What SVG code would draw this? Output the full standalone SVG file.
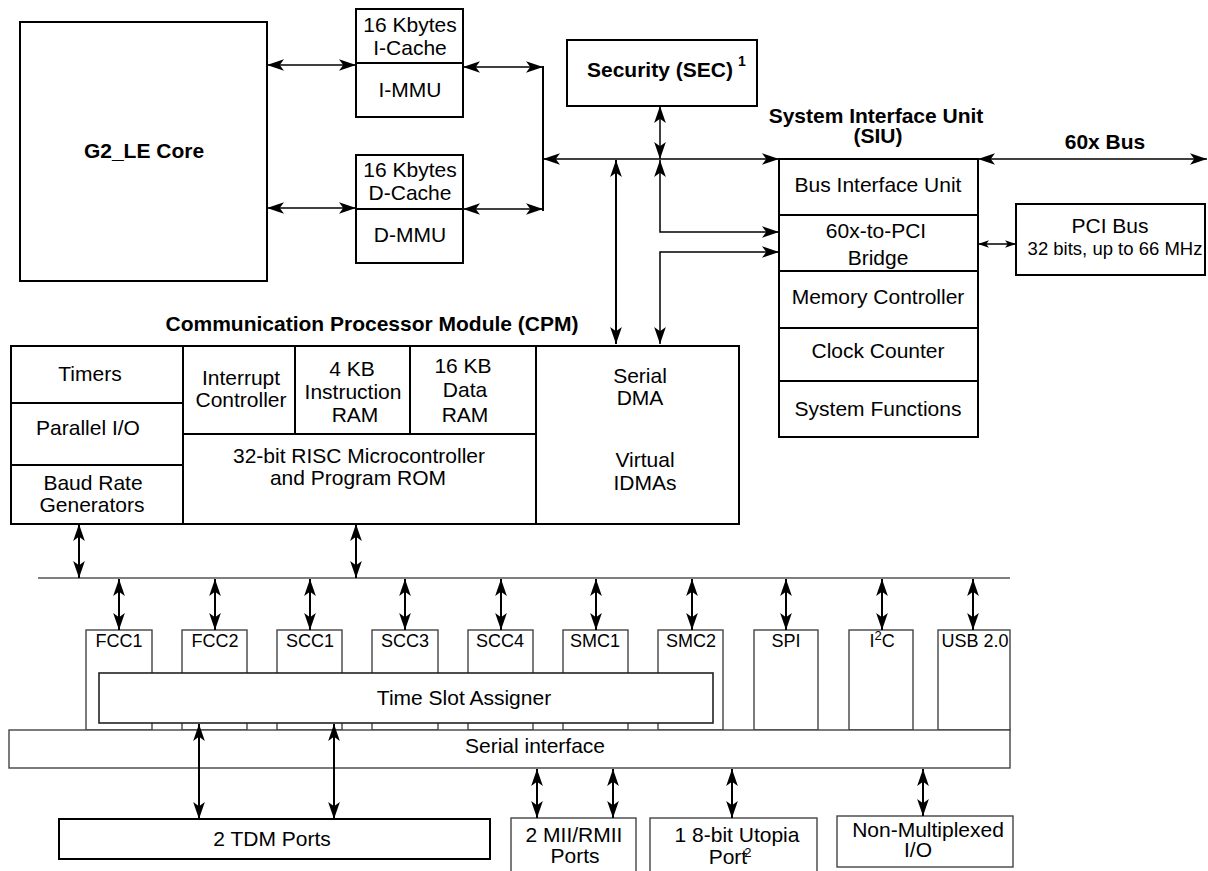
<svg xmlns="http://www.w3.org/2000/svg" width="1208" height="871" viewBox="0 0 1208 871">
<style>
text{font-family:"Liberation Sans",Arial,Helvetica,sans-serif;font-size:21px;fill:#000;text-anchor:middle}
.b{font-weight:bold}
.s{font-size:18px}
.sm{font-size:18.5px}
.box{fill:#fff;stroke:#000;stroke-width:2}
.thin{fill:#fff;stroke:#444;stroke-width:1.4}
.ln{fill:none;stroke:#000;stroke-width:2}
.con{fill:none;stroke:#000;stroke-width:1.5}
.con2{fill:none;stroke:#000;stroke-width:2}
.bus{fill:none;stroke:#000;stroke-width:1.2}
.da{marker-start:url(#ah);marker-end:url(#ah)}
</style>
<defs>
<marker id="ah" viewBox="0 0 16 11" refX="16" refY="5.5" markerWidth="17" markerHeight="12" markerUnits="userSpaceOnUse" orient="auto-start-reverse"><path d="M0,0 L16,5.5 L0,11 L4,5.5 z" fill="#000"/></marker>
<marker id="ahs" viewBox="0 0 16 11" refX="16" refY="5.5" markerWidth="11" markerHeight="8" markerUnits="userSpaceOnUse" orient="auto-start-reverse"><path d="M0,0 L16,5.5 L0,11 L4,5.5 z" fill="#000"/></marker>
</defs>
<rect width="1208" height="871" fill="#fff"/>

<g id="core">
<rect class="box" x="20" y="22" width="247" height="259"/>
<text class="b" x="144" y="158">G2_LE Core</text>
</g>
<g id="icache">
<rect class="box" x="356" y="9" width="107" height="108"/>
<line class="ln" x1="356" y1="63" x2="463" y2="63"/>
<text x="410" y="32">16 Kbytes</text>
<text x="410" y="55">I-Cache</text>
<text x="410" y="97">I-MMU</text>
</g>
<g id="dcache">
<rect class="box" x="356" y="155" width="107" height="108"/>
<line class="ln" x1="356" y1="209" x2="463" y2="209"/>
<text x="410" y="177">16 Kbytes</text>
<text x="410" y="200">D-Cache</text>
<text x="410" y="242">D-MMU</text>
</g>
<g id="sec">
<rect class="box" x="567" y="40" width="190" height="66"/>
<text class="b" x="587" y="77" style="text-anchor:start">Security (SEC)<tspan dx="5" dy="-11" style="font-size:14px">1</tspan></text>
</g>
<g id="siu">
<text class="b" x="876" y="123">System Interface Unit</text>
<text class="b" x="878" y="143">(SIU)</text>
<rect class="box" x="779" y="159" width="199" height="278"/>
<line class="ln" x1="779" y1="215" x2="978" y2="215"/>
<line class="ln" x1="779" y1="271" x2="978" y2="271"/>
<line class="ln" x1="779" y1="328" x2="978" y2="328"/>
<line class="ln" x1="779" y1="381" x2="978" y2="381"/>
<text x="878" y="192">Bus Interface Unit</text>
<text x="876" y="238">60x-to-PCI</text>
<text x="878" y="265">Bridge</text>
<text x="878" y="304">Memory Controller</text>
<text x="878" y="358">Clock Counter</text>
<text x="878" y="416">System Functions</text>
</g>
<g id="bus60x">
<text class="b" x="1105" y="149">60x Bus</text>
</g>
<g id="pci">
<rect class="box" x="1016" y="204" width="189" height="71"/>
<text x="1110" y="233">PCI Bus</text>
<text class="sm" x="1115" y="255">32 bits, up to 66 MHz</text>
</g>
<g id="cpm">
<text class="b" x="372" y="331">Communication Processor Module (CPM)</text>
<rect class="box" x="11" y="346" width="728" height="178"/>
<line class="ln" x1="183" y1="346" x2="183" y2="524"/>
<line class="ln" x1="11" y1="403" x2="183" y2="403"/>
<line class="ln" x1="11" y1="465" x2="183" y2="465"/>
<line class="ln" x1="295" y1="346" x2="295" y2="434"/>
<line class="ln" x1="410" y1="346" x2="410" y2="434"/>
<line class="ln" x1="536" y1="346" x2="536" y2="524"/>
<line class="ln" x1="183" y1="434" x2="536" y2="434"/>
<text x="90" y="381">Timers</text>
<text x="88" y="435">Parallel I/O</text>
<text x="93" y="490">Baud Rate</text>
<text x="92" y="512">Generators</text>
<text x="241" y="385">Interrupt</text>
<text x="241" y="407">Controller</text>
<text x="352" y="376">4 KB</text>
<text x="353" y="399">Instruction</text>
<text x="355" y="422">RAM</text>
<text x="463" y="373">16 KB</text>
<text x="465" y="397">Data</text>
<text x="465" y="422">RAM</text>
<text x="359" y="463">32-bit RISC Microcontroller</text>
<text x="358" y="485">and Program ROM</text>
<text x="640" y="383">Serial</text>
<text x="640" y="405">DMA</text>
<text x="645" y="467">Virtual</text>
<text x="645" y="490">IDMAs</text>
</g>
<g id="ports">
<rect class="thin" x="86" y="630" width="66" height="100"/>
<rect class="thin" x="182" y="630" width="65" height="100"/>
<rect class="thin" x="277" y="630" width="65" height="100"/>
<rect class="thin" x="372" y="630" width="66" height="100"/>
<rect class="thin" x="468" y="630" width="65" height="100"/>
<rect class="thin" x="563" y="630" width="65" height="100"/>
<rect class="thin" x="658" y="630" width="65" height="100"/>
<rect class="thin" x="754" y="630" width="64" height="100"/>
<rect class="thin" x="849" y="630" width="64" height="100"/>
<rect class="thin" x="938" y="630" width="72" height="100"/>
<text class="s" x="119" y="647">FCC1</text>
<text class="s" x="215" y="647">FCC2</text>
<text class="s" x="310" y="647">SCC1</text>
<text class="s" x="405" y="647">SCC3</text>
<text class="s" x="500" y="647">SCC4</text>
<text class="s" x="595" y="647">SMC1</text>
<text class="s" x="691" y="647">SMC2</text>
<text class="s" x="786" y="647">SPI</text>
<text class="s" x="882" y="647">I<tspan dy="-7" style="font-size:13px">2</tspan><tspan dy="7">C</tspan></text>
<text class="s" x="975" y="647">USB 2.0</text>
</g>
<g id="tsa">
<rect class="thin" x="99" y="673" width="614" height="50" style="stroke:#222;stroke-width:1.6"/>
<text x="464" y="705">Time Slot Assigner</text>
</g>
<g id="si">
<rect class="thin" x="9" y="730" width="1001" height="38"/>
<text x="535" y="753">Serial interface</text>
</g>
<g id="tdm">
<rect class="box" x="59" y="819" width="431" height="40"/>
<text x="272" y="846">2 TDM Ports</text>
</g>
<g id="mii">
<rect class="thin" x="511" y="818" width="125" height="70"/>
<text x="574" y="842">2 MII/RMII</text>
<text x="575" y="863">Ports</text>
</g>
<g id="utopia">
<rect class="thin" x="650" y="818" width="167" height="70"/>
<text x="737" y="842">1 8-bit Utopia</text>
<text x="730" y="864">Port<tspan dx="-3" dy="-7" style="font-size:13px">2</tspan></text>
</g>
<g id="nonmux">
<rect class="thin" x="837" y="816" width="176" height="51"/>
<text x="928" y="837">Non-Multiplexed</text>
<text x="918" y="857">I/O</text>
</g>

<g id="connectors">
<line class="con da" x1="267" y1="65" x2="356" y2="65"/>
<line class="con da" x1="463" y1="67" x2="543" y2="67"/>
<line class="con da" x1="267" y1="208" x2="356" y2="208"/>
<line class="con da" x1="463" y1="209" x2="543" y2="209"/>
<line class="con2" x1="543" y1="66" x2="543" y2="211"/>
<line class="con da" x1="543" y1="159" x2="779" y2="159"/>
<line class="con da" x1="660" y1="106" x2="660" y2="159"/>
<line class="con2 da" x1="616" y1="160" x2="616" y2="344"/>
<path class="con da" d="M660,160 L660,232 L779,232"/>
<path class="con da" d="M779,252 L660,252 L660,344"/>
<line class="con da" x1="978" y1="159" x2="1207" y2="159"/>
<line class="con" x1="978" y1="244" x2="1016" y2="244" style="marker-start:url(#ahs);marker-end:url(#ahs)"/>
<line class="con2 da" x1="79" y1="524" x2="79" y2="578"/>
<line class="con2 da" x1="356" y1="524" x2="356" y2="578"/>
<line class="bus" x1="38" y1="578" x2="1010" y2="578"/>
<line class="con2 da" x1="119" y1="579" x2="119" y2="630"/>
<line class="con2 da" x1="215" y1="579" x2="215" y2="630"/>
<line class="con2 da" x1="310" y1="579" x2="310" y2="630"/>
<line class="con2 da" x1="405" y1="579" x2="405" y2="630"/>
<line class="con2 da" x1="501" y1="579" x2="501" y2="630"/>
<line class="con2 da" x1="596" y1="579" x2="596" y2="630"/>
<line class="con2 da" x1="692" y1="579" x2="692" y2="630"/>
<line class="con2 da" x1="786" y1="579" x2="786" y2="630"/>
<line class="con2 da" x1="882" y1="579" x2="882" y2="630"/>
<line class="con2 da" x1="973" y1="579" x2="973" y2="630"/>
<line class="con2 da" x1="199" y1="724" x2="199" y2="819"/>
<line class="con2 da" x1="334" y1="724" x2="334" y2="819"/>
<line class="con2 da" x1="537" y1="769" x2="537" y2="818"/>
<line class="con2 da" x1="613" y1="769" x2="613" y2="818"/>
<line class="con2 da" x1="732" y1="769" x2="732" y2="818"/>
<line class="con2 da" x1="923" y1="769" x2="923" y2="816"/>
</g>
</svg>
